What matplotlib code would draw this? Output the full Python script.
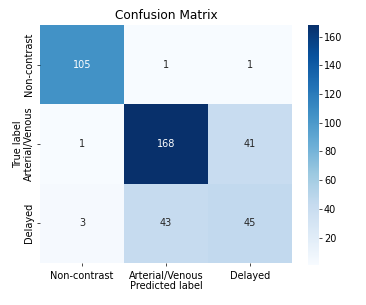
import matplotlib
matplotlib.use("Agg")
import matplotlib.pyplot as plt
import seaborn as sns
import numpy as np

classes = ["Non-contrast", "Arterial/Venous", "Delayed"]
row_noncontrast = [105, 1, 1]
row_arterial = [1, 168, 41]
row_delayed = [3, 43, 45]
cm = np.array([row_noncontrast, row_arterial, row_delayed])

fig = plt.figure(figsize=(3.66, 3.05), dpi=100)
ax = fig.add_axes([0.109, 0.138, 0.689, 0.780])
cax = fig.add_axes([0.842, 0.131, 0.030, 0.787])

fs = 7.0
sns.heatmap(cm, annot=True, fmt="d", cmap="Blues", ax=ax, cbar_ax=cax,
            xticklabels=classes, yticklabels=classes, linewidths=0,
            annot_kws={"fontsize": fs})
ax.set_title("Confusion Matrix", fontsize=8.7, pad=4)
ax.set_xlabel("Predicted label", fontsize=fs, labelpad=0.5)
ax.set_ylabel("True label", fontsize=fs, labelpad=1)
ax.tick_params(axis="x", labelsize=fs, length=2, width=0.5, pad=3.5)
ax.tick_params(axis="y", labelsize=fs, length=2, width=0.5, pad=2)
plt.setp(ax.get_xticklabels(), rotation=0)
plt.setp(ax.get_yticklabels(), rotation=90, va="center")
cax.tick_params(labelsize=fs, length=2, width=0.5, pad=1.5)
cax.set_yticks([20, 40, 60, 80, 100, 120, 140, 160])
for s in cax.spines.values():
    s.set_visible(False)

fig.savefig("out.png", dpi=100)
